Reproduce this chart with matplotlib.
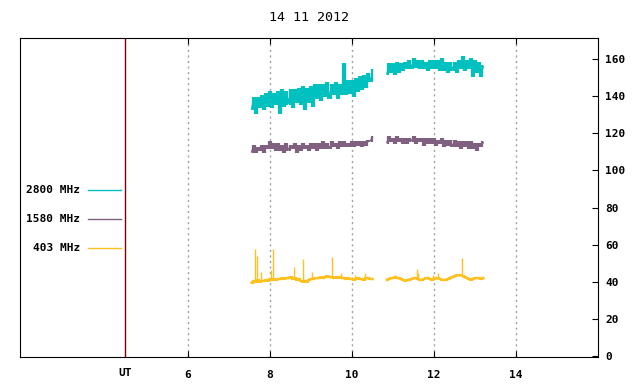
import numpy as np
import matplotlib
matplotlib.use('Agg')
import matplotlib.pyplot as plt

plt.rcParams['font.family'] = ['DejaVu Sans Mono']
plt.rcParams['font.weight'] = 'bold'
plt.rcParams['font.size'] = 8

title = '14 11 2012'
labels = ['2800 MHz', '1580 MHz', '403 MHz']
colors = ['#00c0c0', '#806080', '#ffc020']
xticks = [6, 8, 10, 12, 14]
yticks = [0, 20, 40, 60, 80, 100, 120, 140, 160]

# two recording segments, sampled every 0.05 h
t1_start, t1_end = 7.55, 10.50
t2_start, t2_end = 10.85, 13.20

# 2800 MHz
f2800_a = [133, 139, 131, 139, 134, 140, 133, 141, 135, 142,
           134, 141, 136, 142, 131, 143, 135, 142, 136, 143,
           134, 143, 137, 144, 136, 145, 133, 144, 137, 145,
           135, 146, 139, 146, 138, 146, 140, 147, 139, 146,
           141, 147, 139, 146, 141, 157, 141, 148, 142, 148,
           140, 149, 143, 150, 144, 151, 145, 152, 148, 154]
f2800_b = [152, 157, 153, 157, 152, 158, 153, 157, 154, 158,
           155, 159, 155, 160, 156, 159, 155, 159, 155, 158,
           154, 159, 155, 159, 155, 159, 154, 160, 154, 158,
           153, 158, 154, 158, 153, 159, 155, 161, 154, 159,
           155, 160, 151, 159, 153, 158, 151, 156]

# 1580 MHz
f1580_a = [110, 113, 110, 112, 111, 113, 110, 113, 112, 115,
           112, 114, 111, 114, 111, 113, 110, 114, 111, 113,
           112, 114, 110, 113, 111, 114, 112, 113, 111, 114,
           112, 114, 111, 114, 112, 115, 112, 114, 112, 115,
           113, 114, 112, 115, 113, 115, 113, 114, 113, 115,
           113, 115, 114, 115, 113, 115, 114, 116, 116, 118]
f1580_b = [115, 118, 116, 117, 115, 118, 116, 117, 115, 117,
           115, 117, 116, 118, 115, 117, 116, 117, 114, 117,
           115, 117, 115, 117, 114, 116, 115, 117, 113, 116,
           114, 116, 113, 116, 113, 115, 112, 115, 113, 115,
           112, 115, 112, 114, 111, 114, 113, 115]

# 403 MHz (baseline + short bursts)
f403_a = [39.5, 40.5, 40, 41, 40, 40.5, 40.5, 41, 40.5, 41.5,
          41, 41.5, 41, 41.5, 41.5, 42, 41.5, 42, 42, 42.5,
          41.5, 42, 41, 41.5, 40.5, 40, 40.5, 40, 41, 41.5,
          41.5, 42, 42, 42, 42.5, 42, 42.5, 43, 42.5, 42.5,
          42, 42.5, 42, 42.5, 42, 42, 41.5, 42, 41.5, 41.5,
          41, 41.5, 42, 41.5, 41.5, 41, 42, 42, 41.5, 41.5]
f403_b = [41, 41.5, 42, 42, 42.5, 42, 42, 41.5, 41, 40.5,
          41, 41, 41.5, 42, 42, 41.5, 41, 41, 41.5, 42,
          42, 41.5, 41, 41.5, 42, 42, 41.5, 41, 41, 41,
          41.5, 42, 42.5, 43, 43.5, 43.5, 43.5, 43, 42.5, 42,
          41.5, 41, 41.5, 42, 42, 42, 41.5, 42]
burst_t = [7.64, 7.67, 7.79, 8.02, 8.08, 8.59, 8.81, 9.03, 9.52, 9.72,
           10.07, 10.32, 11.05, 11.58, 11.60, 11.97, 12.10, 12.68]
burst_top = [57.7, 53.9, 45.4, 46.4, 57.7, 48.1, 52.3, 45.4, 53.5, 45.0,
             43.7, 44.6, 43.5, 47.0, 44.5, 43.5, 45.0, 53.0]

t1 = np.linspace(t1_start, t1_end, len(f2800_a))
t2 = np.linspace(t2_start, t2_end, len(f2800_b))

fig = plt.figure(figsize=(6.4, 3.84), dpi=100)
ax = fig.add_axes([20/640, 1-357/384, 578/640, 319/384])

for xt in xticks:
    ax.axvline(xt, color='#a0a0a0', lw=1, ls=(0, (1.5, 2.5)), zorder=0)
ax.axvline(4.46, color='#800000', lw=1, zorder=1)


def draw_band(t, v, c, lw_line=1):
    # dense record: each step drawn as a short vertical stroke between neighbours
    v = np.asarray(v, dtype=float)
    lo = np.minimum(v[:-1], v[1:])
    hi = np.maximum(v[:-1], v[1:])
    tm = (t[:-1] + t[1:]) / 2
    ax.vlines(tm, lo - 0.6, hi + 0.6, color=c, lw=1.6)
    ax.plot(t, v, color=c, lw=lw_line)


for vals_a, vals_b, c, lwl in [(f2800_a, f2800_b, colors[0], 1),
                               (f1580_a, f1580_b, colors[1], 1),
                               (f403_a, f403_b, colors[2], 1.8)]:
    draw_band(t1, vals_a, c, lwl)
    draw_band(t2, vals_b, c, lwl)

base = np.interp(burst_t, np.concatenate([t1, t2]), f403_a + f403_b)
ax.vlines(burst_t, base, burst_top, color=colors[2], lw=1)

# legend drawn by hand like gnuplot
for i, (lab, c) in enumerate(zip(labels, colors)):
    y = [0.5235, 0.4326, 0.3417][i]
    ax.text(0.1038, y, lab, transform=ax.transAxes, ha='right', va='center')
    ax.plot([0.1176, 0.1747], [y, y], color=c, lw=1, transform=ax.transAxes)

ax.set_xlim(1.9, 16.0)
ax.set_ylim(-0.5, 171.3)
ax.set_xticks(xticks)
ax.set_yticks(yticks)
ax.yaxis.tick_right()
ax.tick_params(axis='x', direction='in', length=4, top=True, pad=9)
ax.tick_params(axis='y', direction='in', length=4, pad=5)
ax.text(4.46, -0.035, 'UT', transform=ax.get_xaxis_transform(), ha='center', va='top')
ax.set_title(title, pad=12)

fig.savefig('out.png', dpi=100)
